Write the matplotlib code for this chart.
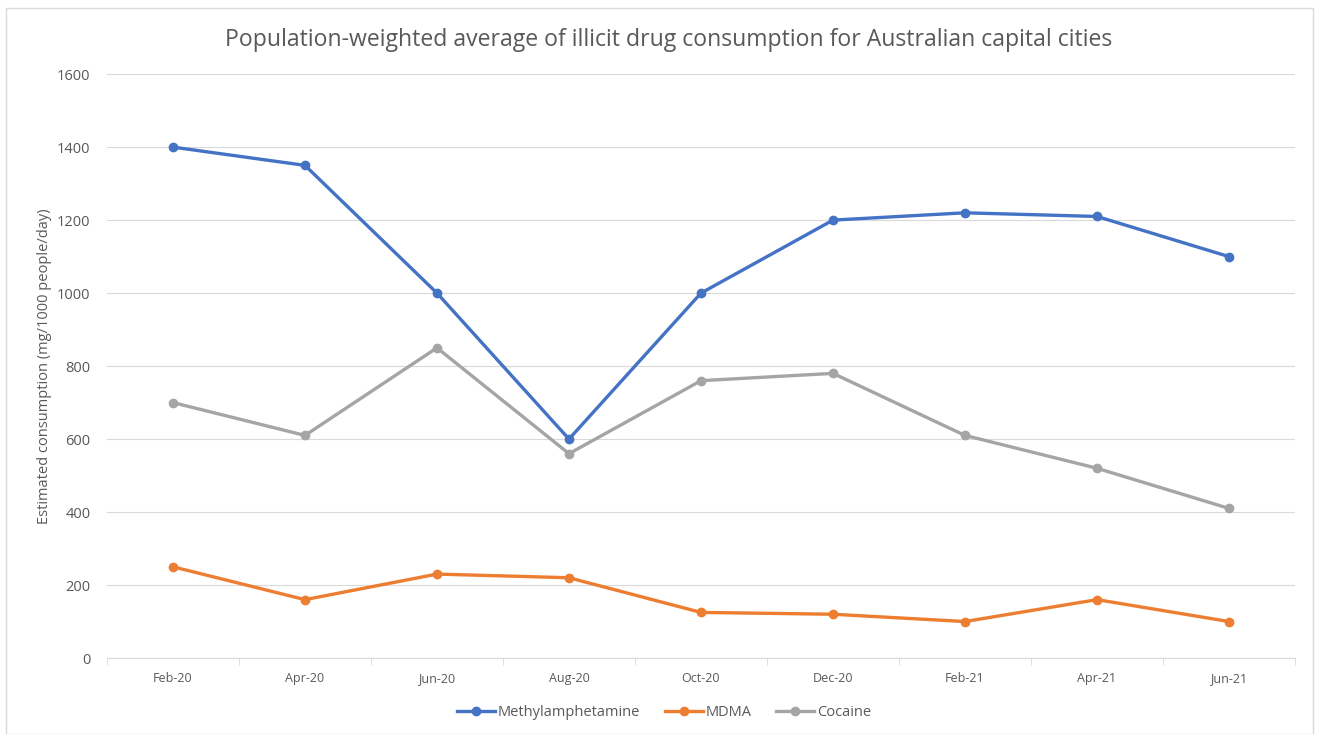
import matplotlib.pyplot as plt
from matplotlib.patches import Rectangle

# dati
mesi = ["Feb-20", "Apr-20", "Jun-20", "Aug-20", "Oct-20", "Dec-20", "Feb-21", "Apr-21", "Jun-21"]
metanfetamina = [1400, 1350, 1000, 600, 1000, 1200, 1220, 1210, 1100]
mdma = [250, 160, 230, 220, 125, 120, 100, 160, 100]
cocaina = [700, 610, 850, 560, 760, 780, 610, 520, 410]

plt.rcParams['font.family'] = ['Open Sans', 'DejaVu Sans']
TESTO = '#595959'

fig = plt.figure(figsize=(13.19, 7.34), dpi=100)
fig.patches.append(Rectangle((6 / 1319, 0), 1307 / 1319, 726 / 734, transform=fig.transFigure,
                             fill=False, edgecolor='#d9d9d9', linewidth=1))
ax = fig.add_axes([0.0811, 0.1035, 0.9007, 0.7955])

x = list(range(len(mesi)))
serie = [
    (metanfetamina, '#4472C4', 'Methylamphetamine'),
    (mdma, '#ED7D31', 'MDMA'),
    (cocaina, '#A5A5A5', 'Cocaine'),
]
for valori, colore, nome in serie:
    ax.plot(x, valori, color=colore, linewidth=2.4, marker='o', markersize=6, label=nome)

ax.set_xlim(-0.5, len(mesi) - 0.5)
ax.set_ylim(0, 1600)
ax.set_yticks(range(0, 1601, 200))
ax.set_xticks(x)
ax.set_xticklabels(mesi)
ax.set_xticks([i - 0.5 for i in range(len(mesi) + 1)], minor=True)
ax.tick_params(axis='x', which='major', length=0, pad=10, labelsize=9, labelcolor=TESTO)
ax.tick_params(axis='x', which='minor', length=5, color='#d9d9d9')
ax.tick_params(axis='y', length=0, pad=12, labelsize=10.5, labelcolor=TESTO)
ax.grid(axis='y', color='#d9d9d9', linewidth=0.8)
ax.set_axisbelow(True)
for lato in ['top', 'right', 'left']:
    ax.spines[lato].set_visible(False)
ax.spines['bottom'].set_color('#d9d9d9')

ax.set_ylabel('Estimated consumption (mg/1000 people/day)', fontsize=10.5, color=TESTO)
ax.yaxis.set_label_coords(-55 / 1188, 0.5)
fig.text(0.507, 0.946, 'Population-weighted average of illicit drug consumption for Australian capital cities',
         ha='center', va='center', fontsize=16.6, color=TESTO)

ax.legend(loc='center', bbox_to_anchor=(0.469, -0.094), ncol=3, frameon=False,
          fontsize=10.5, labelcolor=TESTO, handlelength=2.6, columnspacing=1.7, handletextpad=0.2)

fig.savefig('out.png', dpi=100)
